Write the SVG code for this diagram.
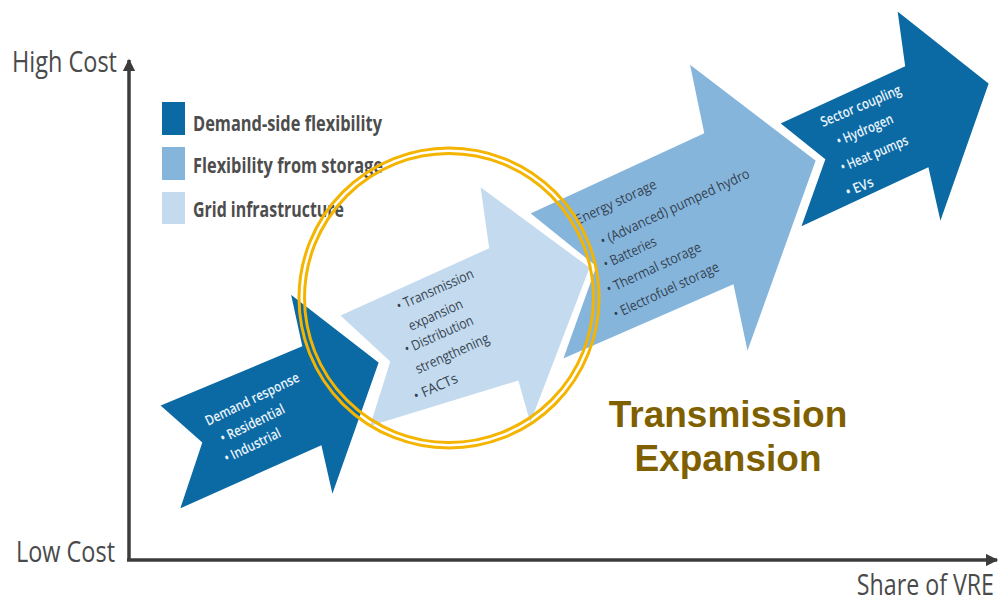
<svg xmlns="http://www.w3.org/2000/svg" width="1004" height="607" viewBox="0 0 1004 607">
  <defs>
    <style>
      .axis { stroke: #3c3c3c; stroke-width: 3.5; fill: none; }
      .axislbl { font-family: "Open Sans", "Liberation Sans", sans-serif; font-size: 29px; fill: #4a4a4a; }
      .leg { font-family: "Open Sans", "Liberation Sans", sans-serif; font-weight: bold; font-size: 21px; fill: #4d4d4d; }
      .arr { stroke: #ffffff; stroke-width: 4; stroke-linejoin: miter; }
      .dark { fill: #0b6aa4; }
      .mid { fill: #86b5dc; }
      .light { fill: #c4daee; }
      .wt { font-family: "Open Sans", "Liberation Sans", sans-serif; font-weight: 600; font-size: 14px; fill: #eaf3fb; }
      .gt { font-family: "Open Sans", "Liberation Sans", sans-serif; font-size: 14px; fill: #34424f; }
      .ring { fill: none; stroke: #f4b400; stroke-width: 3; }
      .callout { font-family: "Liberation Sans", Arial, sans-serif; font-weight: bold; font-size: 37px; fill: #7f6000; text-anchor: middle; }
    </style>
    <marker id="head" viewBox="0 0 10 10" refX="9" refY="5" markerWidth="4" markerHeight="3.5" orient="auto" markerUnits="strokeWidth">
      <path d="M0,0 L10,5 L0,10 z" fill="#3c3c3c"/>
    </marker>
  </defs>

  <rect width="1004" height="607" fill="#ffffff"/>

  <!-- axes -->
  <g id="connectors">
    <line class="axis" x1="129" y1="561" x2="129" y2="60" marker-end="url(#head)"/>
    <line class="axis" x1="127" y1="560" x2="997" y2="560" marker-end="url(#head)"/>
  </g>
  <g id="axis-labels">
    <text class="axislbl" x="12" y="72" textLength="105" lengthAdjust="spacingAndGlyphs">High Cost</text>
    <text class="axislbl" x="16" y="562" textLength="99" lengthAdjust="spacingAndGlyphs">Low Cost</text>
    <text class="axislbl" transform="translate(994,595) scale(0.8,1)" font-size="28" text-anchor="end">Share of VRE</text>
  </g>

  <!-- legend -->
  <g id="legend">
    <rect class="dark" x="162" y="102" width="23" height="33"/>
    <rect class="mid" x="162" y="147" width="23" height="33"/>
    <rect class="light" x="162" y="192" width="23" height="32"/>
    <text class="leg" x="193" y="131" textLength="189" lengthAdjust="spacingAndGlyphs">Demand-side flexibility</text>
    <text class="leg" x="193" y="173" textLength="190" lengthAdjust="spacingAndGlyphs">Flexibility from storage</text>
    <text class="leg" x="193" y="217" textLength="151" lengthAdjust="spacingAndGlyphs">Grid infrastructure</text>
  </g>

  <!-- grid infrastructure -->
  <g id="grid-infrastructure">
    <polygon class="arr light" points="337,315 487,247 478,183 592,267 530,429 517,383 367,429 388,362"/>
    <g class="gt">
      <text transform="translate(399,311) rotate(-24)" textLength="83" lengthAdjust="spacingAndGlyphs">• Transmission</text>
      <text transform="translate(411,331) rotate(-24)" textLength="58" lengthAdjust="spacingAndGlyphs">expansion</text>
      <text transform="translate(407,354) rotate(-24)" textLength="74" lengthAdjust="spacingAndGlyphs">• Distribution</text>
      <text transform="translate(418,374) rotate(-24)" textLength="79" lengthAdjust="spacingAndGlyphs">strengthening</text>
      <text transform="translate(416,401) rotate(-24)" textLength="47" lengthAdjust="spacingAndGlyphs">• FACTs</text>
    </g>
  </g>

  <!-- demand-side flexibility -->
  <g id="demand-response">
    <polygon class="arr dark" points="157,405 300,345 288,290 381,362 332,501 320,448 177,512 200,443"/>
    <g class="wt">
      <text transform="translate(208,426) rotate(-26)" textLength="103" lengthAdjust="spacingAndGlyphs">Demand response</text>
      <text transform="translate(223,443) rotate(-26)" textLength="70" lengthAdjust="spacingAndGlyphs">• Residential</text>
      <text transform="translate(227,463) rotate(-26)" textLength="61" lengthAdjust="spacingAndGlyphs">• Industrial</text>
    </g>
  </g>

  <!-- flexibility from storage -->
  <g id="energy-storage">
    <polygon class="arr mid" points="527,213 702,132 687,60 818,160 747,358 732,287 560,362 594,267"/>
    <g class="gt">
      <text transform="translate(578,225) rotate(-25)" textLength="88" lengthAdjust="spacingAndGlyphs">Energy storage</text>
      <text transform="translate(603,246) rotate(-25)" textLength="163" lengthAdjust="spacingAndGlyphs">• (Advanced) pumped hydro</text>
      <text transform="translate(606,269) rotate(-25)" textLength="57" lengthAdjust="spacingAndGlyphs">• Batteries</text>
      <text transform="translate(609,294) rotate(-25)" textLength="103" lengthAdjust="spacingAndGlyphs">• Thermal storage</text>
      <text transform="translate(616,319) rotate(-25)" textLength="115" lengthAdjust="spacingAndGlyphs">• Electrofuel storage</text>
    </g>
  </g>

  <!-- sector coupling -->
  <g id="sector-coupling">
    <polygon class="arr dark" points="777,123 903,65 895,7 991,83 940,228 927,170 798,230 823,160"/>
    <g class="wt">
      <text transform="translate(823,127) rotate(-23)" textLength="86" lengthAdjust="spacingAndGlyphs">Sector coupling</text>
      <text transform="translate(839,146) rotate(-23)" textLength="60" lengthAdjust="spacingAndGlyphs">• Hydrogen</text>
      <text transform="translate(843,172) rotate(-23)" textLength="72" lengthAdjust="spacingAndGlyphs">• Heat pumps</text>
      <text transform="translate(848,197) rotate(-23)" textLength="29" lengthAdjust="spacingAndGlyphs">• EVs</text>
    </g>
  </g>

  <!-- highlight ring -->
  <g id="highlight">
    <circle class="ring" cx="449" cy="298" r="150"/>
    <circle class="ring" cx="449" cy="298" r="144.5"/>
  </g>

  <g id="callout">
    <text class="callout" x="728" y="427">Transmission</text>
    <text class="callout" x="728" y="471">Expansion</text>
  </g>
</svg>
